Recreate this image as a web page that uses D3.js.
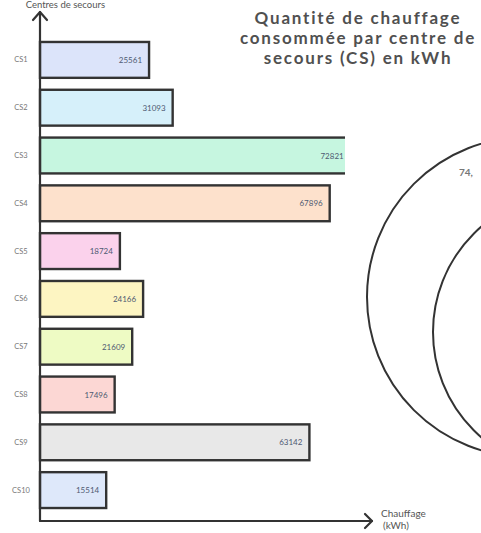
<!DOCTYPE html>
<html>
<head>
<meta charset="utf-8">
<script src="https://cdn.jsdelivr.net/npm/d3@7"></script>
<style>
  body { margin: 0; background: #fff; overflow: hidden; }
  svg { display: block; }
</style>
</head>
<body>
<svg width="481" height="533"></svg>
<script>
// Data
const centres = ['CS1', 'CS2', 'CS3', 'CS4', 'CS5', 'CS6', 'CS7', 'CS8', 'CS9', 'CS10']
const chauffage = [25561, 31093, 72821, 67896, 18724, 24166, 21609, 17496, 63142, 15514]
const couleurs = ['#dce4fa', '#d6f0fa', '#c6f6e0', '#fde1cc', '#fbd2ec', '#fdf5c2', '#eefbc4', '#fcd7d4', '#e8e8e8', '#dee8fa']
const titre = ['Quantité de chauffage', 'consommée par centre de', 'secours (CS) en kWh']

const svg = d3.select('svg')
const font = "'Lato', 'Noto Sans', sans-serif"
const ink = '#333'

// Scales
const x = d3.scaleLinear().domain([0, 75000]).range([40, 360])
const y = d3.scaleBand().domain(centres).range([36, 514]).paddingInner(0.25).paddingOuter(0.125)

const data = centres.map((c, i) => ({ key: c, value: chauffage[i], color: couleurs[i] }))

// the bar panel is cut on the right in the source picture
svg.append('clipPath').attr('id', 'cut')
  .append('rect').attr('x', 0).attr('y', 0).attr('width', 345).attr('height', 533)

const bars = svg.append('g').attr('clip-path', 'url(#cut)')

bars.selectAll('.bar')
  .data(data)
  .enter()
  .append('rect')
    .attr('class', 'bar')
    .attr('x', x(0))
    .attr('y', d => y(d.key))
    .attr('width', d => x(d.value) - x(0))
    .attr('height', y.bandwidth())
    .attr('fill', d => d.color)
    .attr('stroke', ink)
    .attr('stroke-width', 2.4)

bars.selectAll('.val')
  .data(data)
  .enter()
  .append('text')
    .attr('class', 'val')
    .attr('x', d => x(d.value) - 7)
    .attr('y', d => y(d.key) + y.bandwidth() / 2 + 3)
    .attr('text-anchor', 'end')
    .attr('font-family', font)
    .attr('font-size', 8)
    .attr('fill', '#4f5a72')
    .text(d => d.value)

// category labels
svg.selectAll('.cat')
  .data(centres)
  .enter()
  .append('text')
    .attr('class', 'cat')
    .attr('x', 21)
    .attr('y', d => y(d) + y.bandwidth() / 2 + 2.5)
    .attr('text-anchor', 'middle')
    .attr('font-family', font)
    .attr('font-size', 7.5)
    .attr('fill', '#777')
    .text(d => d)

// axes drawn as hand arrows
const axis = svg.append('g').attr('fill', 'none').attr('stroke', ink)
  .attr('stroke-width', 2.2).attr('stroke-linecap', 'round').attr('stroke-linejoin', 'round')
axis.append('path').attr('d', d3.line()([[40, 521], [40, 12]]))
axis.append('path').attr('d', d3.line()([[33, 20], [40, 12], [47, 20]]))
axis.append('path').attr('d', d3.line()([[40, 521], [372, 521]]))
axis.append('path').attr('d', d3.line()([[365, 514], [372, 521], [365, 528]]))

svg.append('text')
  .attr('x', 105).attr('y', 8)
  .attr('text-anchor', 'end')
  .attr('font-family', font).attr('font-size', 9.5).attr('fill', '#555')
  .text('Centres de secours')

const xl = svg.append('text')
  .attr('font-family', font).attr('font-size', 10).attr('fill', '#555')
xl.append('tspan').attr('x', 381).attr('y', 517).text('Chauffage')
xl.append('tspan').attr('x', 383).attr('y', 529).text('(kWh)')

// title
svg.append('text')
  .attr('text-anchor', 'middle')
  .attr('font-family', font).attr('font-weight', 'bold').attr('font-size', 17)
  .attr('letter-spacing', 1.8)
  .attr('fill', '#505050')
  .selectAll('tspan')
  .data(titre)
  .enter()
  .append('tspan')
    .attr('x', 358)
    .attr('y', (d, i) => 24 + i * 20)
    .text(d => d)

// neighbouring donut, only its left edge is visible
const ring = svg.append('g').attr('fill', 'none').attr('stroke', ink).attr('stroke-width', 2)
ring.append('circle').attr('cx', 527).attr('cy', 297).attr('r', 160)
ring.append('circle').attr('cx', 572).attr('cy', 332).attr('r', 139)

svg.append('text')
  .attr('x', 459).attr('y', 176)
  .attr('font-family', font).attr('font-weight', 'bold').attr('font-size', 10)
  .attr('fill', '#777')
  .text('74,')
</script>
</body>
</html>
